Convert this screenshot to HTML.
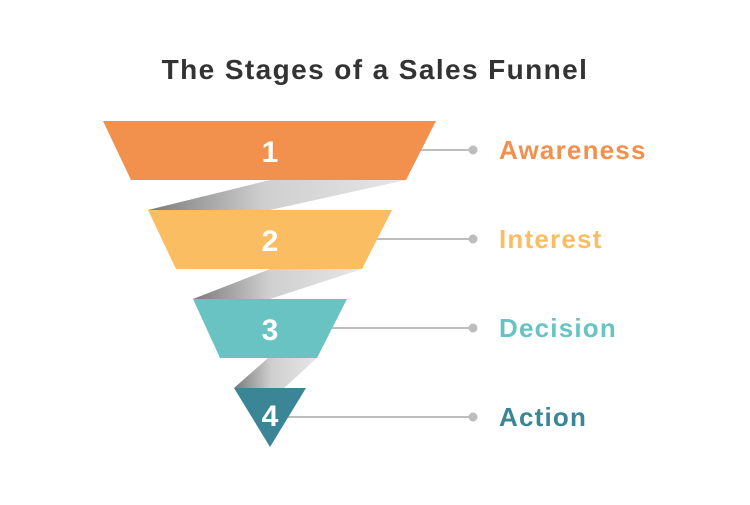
<!DOCTYPE html>
<html><head><style>body{margin:0;background:#fff}</style></head><body>
<svg width="750" height="500" xmlns="http://www.w3.org/2000/svg" font-family="Liberation Sans, sans-serif">
<defs>
<linearGradient id="g" x1="0" x2="1" y1="0" y2="0"><stop offset="0" stop-color="#7a7a7a"/><stop offset="0.45" stop-color="#cfcfcf"/><stop offset="1" stop-color="#e6e6e6"/></linearGradient>
</defs>
<text x="375" y="79" text-anchor="middle" font-size="28" font-weight="bold" fill="#333" letter-spacing="1.4">The Stages of a Sales Funnel</text>
<polygon points="270,180 406,180 270,210 148,210" fill="url(#g)"/>
<polygon points="270,269 362,269 270,299 193,299" fill="url(#g)"/>
<polygon points="268,358 317,358 284,388 234,388" fill="url(#g)"/>
<g stroke="#bdbdbd" stroke-width="2">
<line x1="420" y1="150" x2="472" y2="150"/><line x1="377" y1="239" x2="472" y2="239"/>
<line x1="332" y1="328" x2="472" y2="328"/><line x1="288" y1="417" x2="472" y2="417"/></g>
<g fill="#bdbdbd"><circle cx="473" cy="150" r="4.5"/><circle cx="473" cy="239" r="4.5"/><circle cx="473" cy="328" r="4.5"/><circle cx="473" cy="417" r="4.5"/></g>
<polygon points="103,121 436,121 406,180 131,180" fill="#f2904d"/>
<polygon points="148,210 392,210 362,269 176,269" fill="#fbbd62"/>
<polygon points="193,299 347,299 317,358 220,358" fill="#69c3c3"/>
<polygon points="234,388 306,388 270,447" fill="#3a8596"/>
<g fill="#fff" font-size="30" font-weight="bold" text-anchor="middle">
<text x="270" y="162">1</text><text x="270" y="251">2</text><text x="270" y="340">3</text><text x="270" y="426">4</text></g>
<g font-size="26" font-weight="bold" letter-spacing="1.2">
<text x="499" y="159" fill="#f2904d">Awareness</text>
<text x="499" y="248" fill="#fbbd62">Interest</text>
<text x="499" y="337" fill="#69c3c3">Decision</text>
<text x="499" y="426" fill="#3a8596">Action</text></g>
</svg>
</body></html>
